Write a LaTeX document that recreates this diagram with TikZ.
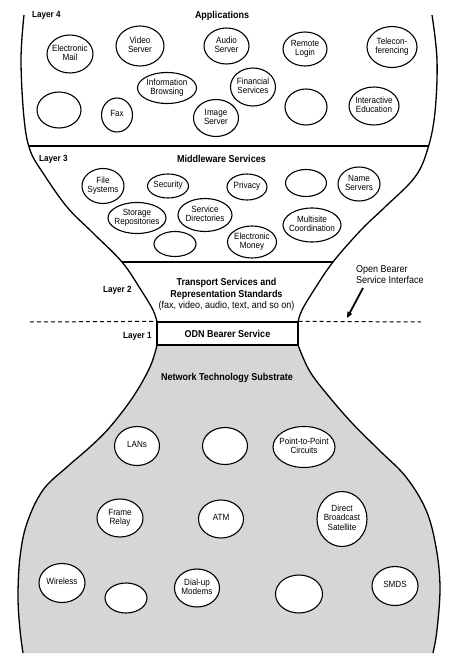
\documentclass[tikz,border=0pt]{standalone}
\usepackage{fontspec}
\setmainfont[FakeStretch=0.9]{Liberation Sans}
\usetikzlibrary{shapes.geometric,arrows.meta}
\definecolor{substrate}{gray}{0.84}
\newcommand\ellabel[1]{\makebox[0pt]{\begin{tabular}{@{}c@{}}#1\end{tabular}}}
\begin{document}
\begin{tikzpicture}[x=1pt,y=-1pt,
  outline/.style={line width=1.3pt},
  ell/.style 2 args={ellipse,draw,line width=1.1pt,fill=white,minimum width=#1pt,minimum height=#2pt,inner sep=0pt,font=\fontsize{9}{9.6}\selectfont},
  ttl/.style={font=\fontsize{10}{11.5}\selectfont\bfseries,align=center,inner sep=0pt},
  lay/.style={font=\fontsize{9}{10}\selectfont\bfseries,inner sep=0pt},
  note/.style={font=\fontsize{10}{11.5}\selectfont,align=left,inner sep=0pt},
  dashline/.style={line width=1pt,dash pattern=on 4pt off 3pt},
  arrowline/.style={line width=1.8pt,-{Triangle[length=6pt,width=5pt]}},
]
\useasboundingbox (0,0) rectangle (458,668);
\fill[white] (0,0) rectangle (458,668);

% substrate (bottom bulb)
\fill[substrate] plot[smooth,tension=0.6] coordinates {(157,345)(150,367)(133,397)(110,427)(90,447)(67,467)(43,490)(27,523)(20,557)(18,597)(20,630)(23,653)}
  -- plot[smooth,tension=0.6] coordinates {(433,653)(437,630)(440,587)(436,547)(426,510)(406,477)(379,450)(352,423)(326,393)(309,370)(298,345)} -- cycle;
\draw[outline] plot[smooth,tension=0.6] coordinates {(157,345)(150,367)(133,397)(110,427)(90,447)(67,467)(43,490)(27,523)(20,557)(18,597)(20,630)(23,653)};
\draw[outline] plot[smooth,tension=0.6] coordinates {(298,345)(309,370)(326,393)(352,423)(379,450)(406,477)(426,510)(436,547)(440,587)(437,630)(433,653)};

% upper profiles
\draw[outline] plot[smooth,tension=0.6] coordinates {(24,15)(21,60)(24,118)(30,150)(43,173)(67,207)(93,233)(122,262)(141,290)(153,310)(157,322)};
\draw[outline] plot[smooth,tension=0.6] coordinates {(432,15)(437,60)(435,112)(428,148)(415,177)(385,207)(361,230)(333,262)(314,290)(302,310)(298,322)};

% layer dividers
\coordinate (d4L) at (28,146); \coordinate (d4R) at (429,146);
\coordinate (d3L) at (122,262); \coordinate (d3R) at (333,262);
\draw[outline] (d4L) -- (d4R);
\draw[outline] (d3L) -- (d3R);

% ODN box and dashed interface line
\node[draw,outline,fill=white,minimum width=141pt,minimum height=23pt,inner sep=0pt,font=\fontsize{10}{11.5}\selectfont\bfseries] (odn) at (227.5,333.5) {ODN Bearer Service};
\coordinate (dashL) at (30,322); \coordinate (dashR) at (421,322);
\draw[dashline] (dashL) -- (odn.north west);
\draw[dashline] (odn.north east) -- (dashR);

% titles and layer labels
\node[ttl] (app) at (222,16) {Applications};
\node[ttl] (mid) at (221.5,159) {Middleware Services};
\node[ttl] (trans) at (226.5,294.5) {Transport Services and\\Representation Standards\\{\mdseries (fax, video, audio, text, and so on)}};
\node[ttl] (nts) at (227,378) {Network Technology Substrate};
\node[lay,anchor=west] (l4) at (32,15) {Layer 4};
\node[lay,anchor=west] (l3) at (39,159) {Layer 3};
\node[lay,anchor=west] (l2) at (103,290) {Layer 2};
\node[lay,anchor=west] (l1) at (123,336) {Layer 1};
\node[note,anchor=west] (obsi) at (356,274.5) {Open Bearer\\Service Interface};
\coordinate (arrS) at (363,288); \coordinate (arrE) at (347,318);
\draw[arrowline] (arrS) -- (arrE);

% Layer 4 ellipses
\node[ell={46}{38}] (e1) at (70,54) {\ellabel{Electronic\\Mail}};
\node[ell={48}{40}] (e2) at (140,46) {\ellabel{Video\\Server}};
\node[ell={45}{36}] (e3) at (226.5,46) {\ellabel{Audio\\Server}};
\node[ell={44}{34}] (e4) at (305,49) {\ellabel{Remote\\Login}};
\node[ell={50}{41}] (e5) at (392,47) {\ellabel{Telecon-\\ferencing}};
\node[ell={59}{31}] (e6) at (167,88) {\ellabel{Information\\Browsing}};
\node[ell={45}{38}] (e7) at (253,87) {\ellabel{Financial\\Services}};
\node[ell={44}{36}] (e8) at (59,110) {};
\node[ell={31}{34}] (e9) at (117,115) {\ellabel{Fax}};
\node[ell={45}{37}] (e10) at (216,118) {\ellabel{Image\\Server}};
\node[ell={42}{36}] (e11) at (306,107) {};
\node[ell={50}{38}] (e12) at (374,106) {\ellabel{Interactive\\Education}};

% Layer 3 ellipses
\node[ell={42}{35}] (m1) at (103,186) {\ellabel{File\\Systems}};
\node[ell={41}{24}] (m2) at (168,186) {\ellabel{Security}};
\node[ell={40}{26}] (m3) at (247,187) {\ellabel{Privacy}};
\node[ell={41}{27}] (m4) at (306,183) {};
\node[ell={42}{34}] (m5) at (359,184) {\ellabel{Name\\Servers}};
\node[ell={58}{31}] (m6) at (137,218) {\ellabel{Storage\\Repositories}};
\node[ell={54}{33}] (m7) at (205,215) {\ellabel{Service\\Directories}};
\node[ell={42}{25}] (m8) at (175,244) {};
\node[ell={49}{32}] (m9) at (252,242) {\ellabel{Electronic\\Money}};
\node[ell={58}{34}] (m10) at (312,225) {\ellabel{Multisite\\Coordination}};

% Substrate ellipses
\node[ell={45}{39}] (b1) at (137,446) {\ellabel{LANs}};
\node[ell={45}{37}] (b2) at (225,446) {};
\node[ell={62}{41}] (b3) at (304,447) {\ellabel{Point-to-Point\\Circuits}};
\node[ell={46}{38}] (b4) at (120,518) {\ellabel{Frame\\Relay}};
\node[ell={45}{38}] (b5) at (221,519) {\ellabel{ATM}};
\node[ell={50}{55}] (b6) at (342,519) {\ellabel{Direct\\Broadcast\\Satellite}};
\node[ell={46}{39}] (b7) at (62,583) {\ellabel{Wireless}};
\node[ell={42}{30}] (b8) at (126,598) {};
\node[ell={45}{38}] (b9) at (197,588) {\ellabel{Dial-up\\Modems}};
\node[ell={47}{38}] (b10) at (299,594) {};
\node[ell={46}{39}] (b11) at (395,586) {\ellabel{SMDS}};
\end{tikzpicture}
\end{document}
